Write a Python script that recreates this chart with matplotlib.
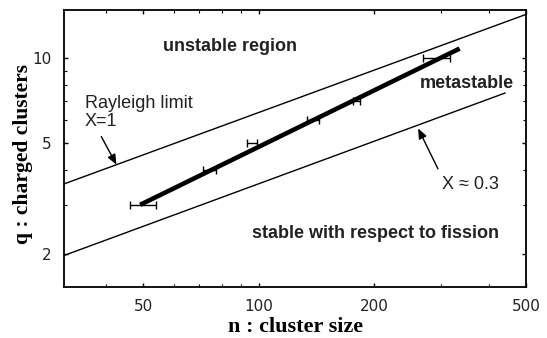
import matplotlib
matplotlib.use("Agg")
import matplotlib.pyplot as plt
from matplotlib.ticker import LogLocator, NullFormatter, FixedLocator, FixedFormatter

# ---- data ----
rayleigh_n = [31, 500]
rayleigh_q = [3.56, 14.3]
lower_n = [31, 440]
lower_q = [1.98, 7.5]
fit_n = [49, 335]
fit_q = [3.0, 10.8]
pts_n = [50, 74.5, 96, 139, 180, 293]
pts_q = [3, 4, 5, 6, 7, 10]
pts_nerr = [3.8, 3, 3, 5, 4, 24]
xticks = [50, 100, 200, 500]
xticklabels = ["50", "100", "200", "500"]
yticks = [2, 5, 10]
yticklabels = ["2", "5", "10"]

fig = plt.figure(figsize=(5.47, 3.38), dpi=100)
ax = fig.add_axes([0.117, 0.151, 0.845, 0.819])
ax.set_xscale("log")
ax.set_yscale("log")
ax.set_xlim(31, 500)
ax.set_ylim(1.53, 14.8)

ax.plot(rayleigh_n, rayleigh_q, color="black", lw=1.0)
ax.plot(lower_n, lower_q, color="black", lw=1.0)
ax.plot(fit_n, fit_q, color="black", lw=3.3, solid_capstyle="butt")
ax.errorbar(pts_n, pts_q, xerr=pts_nerr, fmt="none", ecolor="black",
            elinewidth=1.0, capsize=3, capthick=1.0)

sans = "Liberation Sans"
ax.text(84, 11.0, "unstable region", fontsize=13, fontweight="bold",
        family=sans, ha="center", va="center", color="#222222")
ax.text(350, 8.1, "metastable", fontsize=13, fontweight="bold",
        family=sans, ha="center", va="center", color="#222222")
ax.text(202, 2.38, "stable with respect to fission", fontsize=13,
        fontweight="bold", family=sans, ha="center", va="center", color="#222222")
ax.text(35.2, 6.9, "Rayleigh limit", fontsize=13, family=sans,
        ha="left", va="center", color="#222222")
ax.text(35.0, 5.94, "X=1", fontsize=13, family=sans,
        ha="left", va="center", color="#222222")
ax.text(301, 3.53, "X \u2248 0.3", fontsize=13, family=sans,
        ha="left", va="center", color="#222222")

ax.annotate("", xy=(42.5, 4.17), xytext=(38.8, 5.25),
            arrowprops=dict(arrowstyle="-|>,head_length=0.6,head_width=0.25",
                            color="black", lw=1.0,
                            mutation_scale=10, shrinkA=0, shrinkB=0))
ax.annotate("", xy=(261, 5.61), xytext=(294, 4.03),
            arrowprops=dict(arrowstyle="-|>,head_length=0.6,head_width=0.25",
                            color="black", lw=1.0,
                            mutation_scale=10, shrinkA=0, shrinkB=0))

ax.xaxis.set_major_locator(FixedLocator(xticks))
ax.xaxis.set_major_formatter(FixedFormatter(xticklabels))
ax.yaxis.set_major_locator(FixedLocator(yticks))
ax.yaxis.set_major_formatter(FixedFormatter(yticklabels))
ax.xaxis.set_minor_locator(LogLocator(base=10, subs=range(1, 10)))
ax.yaxis.set_minor_locator(LogLocator(base=10, subs=range(1, 10)))
ax.xaxis.set_minor_formatter(NullFormatter())
ax.yaxis.set_minor_formatter(NullFormatter())
ax.tick_params(which="both", direction="in", top=True, right=True,
               colors="black", labelsize=11, labelcolor="#222222")
ax.tick_params(which="major", length=3, width=1.0, pad=9)
ax.tick_params(which="minor", length=2.5, width=0.8)
for lab in ax.get_xticklabels() + ax.get_yticklabels():
    lab.set_family("DejaVu Sans")
for s in ax.spines.values():
    s.set_linewidth(1.3)

ax.set_xlabel("n : cluster size", fontsize=16, fontweight="bold",
              family="Liberation Serif", labelpad=2)
ax.set_ylabel("q : charged clusters", fontsize=15.5, fontweight="bold",
              family="Liberation Serif", labelpad=0)
ax.yaxis.set_label_coords(-0.066, 0.48)

fig.savefig("out.png", dpi=100)
